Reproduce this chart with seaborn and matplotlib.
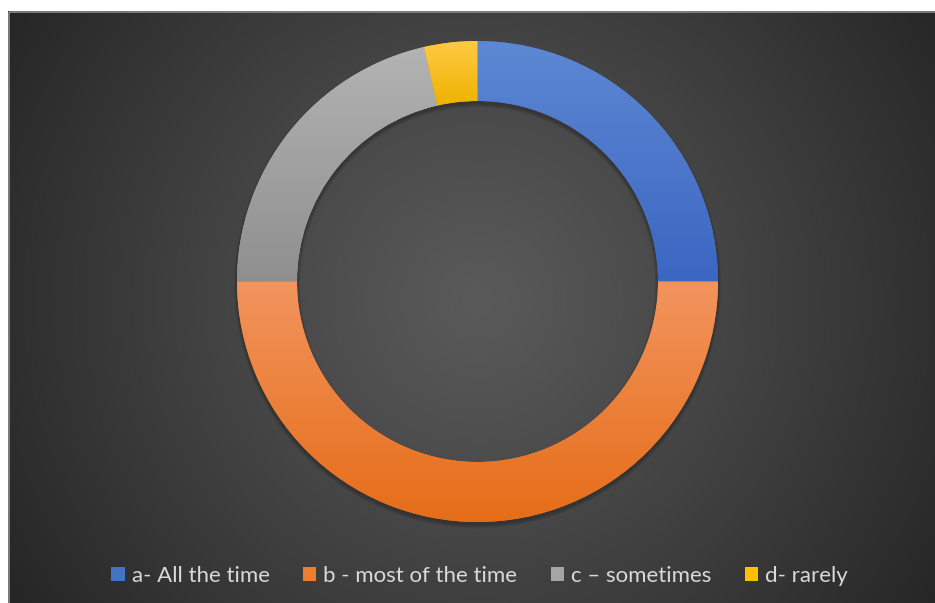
import numpy as np
import matplotlib
matplotlib.use("Agg")
import matplotlib.pyplot as plt
from matplotlib.patches import Patch, Wedge
from matplotlib.colors import LinearSegmentedColormap
import seaborn as sns

# Survey responses
categories = ["a- All the time", "b - most of the time", "c \u2013 sometimes", "d- rarely"]
counts = [7, 14, 6, 1]

# Segment colours: (top shade, bottom shade) for each vertical gradient
base_colors = ["#4472C4", "#ED7D31", "#A5A5A5", "#FFC000"]
shade_top = ["#5d88d3", "#f2945e", "#b3b3b3", "#ffca45"]
shade_bottom = ["#3b66c2", "#e66d18", "#8f8f8f", "#eeb200"]

sns.set_style("white")
plt.rcParams["font.family"] = ["Lato", "DejaVu Sans"]

W, H = 935, 603
fig = plt.figure(figsize=(W / 100, H / 100), dpi=100)
fig.patch.set_facecolor("white")

# Dark panel with radial gradient
left_px, top_px = 8, 11
bg = fig.add_axes([left_px / W, 0, 1 - left_px / W, 1 - top_px / H])
bg.set_axis_off()
pw, ph = W - left_px, H - top_px
yy, xx = np.mgrid[0:ph, 0:pw]
cx, cy = 477 - left_px, 300 - top_px
d = np.sqrt((xx - cx) ** 2 + (yy - cy) ** 2)
d = d / np.sqrt(cx ** 2 + cy ** 2)
d = np.clip(d, 0, 1)
c_in, c_out = 0x5a / 255, 0x26 / 255
val = c_in + (c_out - c_in) * d ** 1.1
bg.imshow(np.dstack([val, val, val]), extent=[0, pw, ph, 0], aspect="auto",
          interpolation="bilinear")
bg.set_xlim(0, pw)
bg.set_ylim(ph, 0)
bg.plot([0.5, 0.5], [ph, 0.5], color="#8a8a8a", lw=1.2, solid_capstyle="butt")
bg.plot([0.5, pw], [0.5, 0.5], color="#8a8a8a", lw=1.2, solid_capstyle="butt")

# Donut axes
R_px = 240.5
cxp, cyp = 477.5, H - 281.5
ax = fig.add_axes([(cxp - R_px) / W, (cyp - R_px) / H, 2 * R_px / W, 2 * R_px / H])
ax.set_xlim(-1, 1)
ax.set_ylim(-1, 1)
ax.set_aspect("equal")
ax.set_axis_off()
ax.patch.set_alpha(0)

ring_w = 60 / R_px
px = 1 / R_px

# Soft drop shadow beneath the ring
for k in range(5):
    spread = k * 0.8 * px
    sh = Wedge((0, -3 * px), 1 + spread, 0, 360, width=ring_w + 2 * spread,
               facecolor="black", edgecolor="none", alpha=0.05, zorder=1)
    sh.set_clip_on(False)
    ax.add_patch(sh)

wedges, _ = ax.pie(counts, radius=1, startangle=90, counterclock=False,
                   colors=base_colors,
                   wedgeprops=dict(width=ring_w, edgecolor="none", linewidth=0))
for wdg in wedges:
    wdg.set_zorder(2)

# Vertical gradient fill clipped to each segment
for wdg, top, bot in zip(wedges, shade_top, shade_bottom):
    ext = wdg.get_path().get_extents()
    cmap = LinearSegmentedColormap.from_list("g", [bot, top])
    grad = np.linspace(0, 1, 256).reshape(-1, 1)
    im = ax.imshow(grad, cmap=cmap, origin="lower", aspect="auto",
                   extent=[ext.x0, ext.x1, ext.y0, ext.y1], zorder=3,
                   interpolation="bilinear")
    im.set_clip_path(wdg)
ax.set_xlim(-1, 1)
ax.set_ylim(-1, 1)

# Legend
handles = [Patch(facecolor=c, edgecolor="none") for c in base_colors]
fig.legend(handles, categories, loc="center", bbox_to_anchor=(0.513, 1 - 576 / H),
           ncol=4, frameon=False, handlelength=0.6, handleheight=0.6,
           handletextpad=0.32, columnspacing=1.5, labelcolor="#d9d9d9",
           prop=dict(family=["Lato", "DejaVu Sans"], size=16))

fig.savefig("out.png", dpi=100, facecolor=fig.get_facecolor())
